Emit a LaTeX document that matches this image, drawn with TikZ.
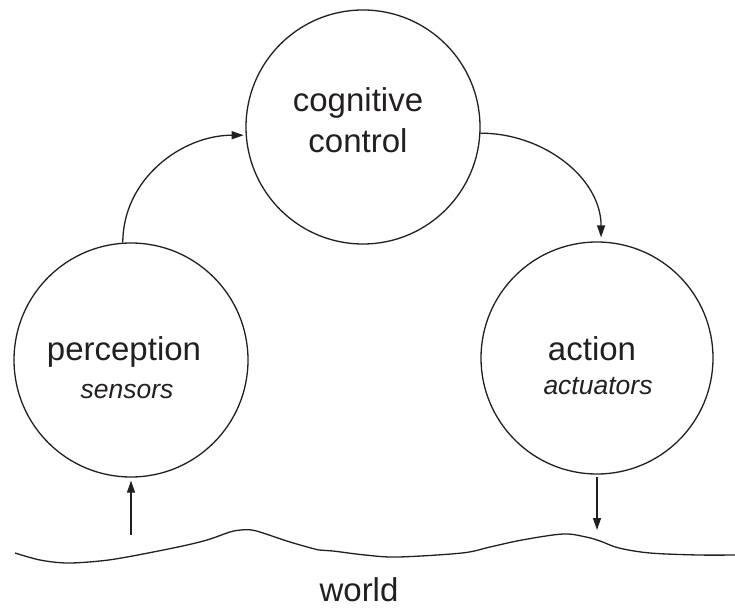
\documentclass[tikz,border=0pt]{standalone}
\usepackage{fontspec}
\setmainfont{Liberation Sans}
\usetikzlibrary{arrows.meta}
\definecolor{ink}{RGB}{35,31,32}
\begin{document}
\begin{tikzpicture}[x=1pt,y=-1pt, line width=1.3pt, draw=ink,
  ring/.style={circle, draw=ink, minimum size=234pt, inner sep=0pt},
  lbl/.style={anchor=base, inner sep=0pt, font=\fontsize{33}{41}\selectfont, text=ink},
  sublbl/.style={anchor=base, inner sep=0pt, font=\fontsize{26.5}{32}\selectfont\itshape, text=ink},
  arr/.style={draw=ink, -{Triangle[length=12pt,width=8pt]}}]
\useasboundingbox (0,0) rectangle (735,609);
% circles
\node[ring] (cog) at (363,127) {};
\node[ring] (perc) at (131,360) {};
\node[ring, minimum size=232pt] (act) at (597,358) {};
% labels
\node[lbl] (cogA) at (358,112) {cognitive};
\node[lbl] (cogB) at (358,153) {control};
\node[lbl] (percA) at (124,360) {perception};
\node[sublbl] (percB) at (127,398) {sensors};
\node[lbl] (actA) at (592,360) {action};
\node[sublbl] (actB) at (598,394) {actuators};
\node[lbl] (world) at (359,601) {world};
% curved arrows
\draw[arr, shorten >=2pt] (perc.94) to[out=90,in=180] (cog.184);
\draw[arr, shorten >=4pt] (cog.-3) to[out=0,in=90] (act.88);
% vertical arrows
\coordinate (w1) at (131,535);
\coordinate (w2) at (597,530);
\draw[arr, shorten >=3pt] (w1) -- (perc.south);
\draw[arr, shorten <=2pt] (act.south) -- (w2);
% world line
\draw[ink, line width=1.3pt] plot[smooth, tension=0.55] coordinates {
  (15,553) (40,560) (67,563) (100,561) (127,557) (178,547) (207,540)
  (230,532) (241,530) (252,530) (263,533) (290,542) (319,550) (333,551)
  (365,555) (398,557) (462,553) (490,547) (522,540) (563,534) (586,537)
  (600,541) (619,548) (650,553) (698,555) (735,555)};
\end{tikzpicture}
\end{document}
